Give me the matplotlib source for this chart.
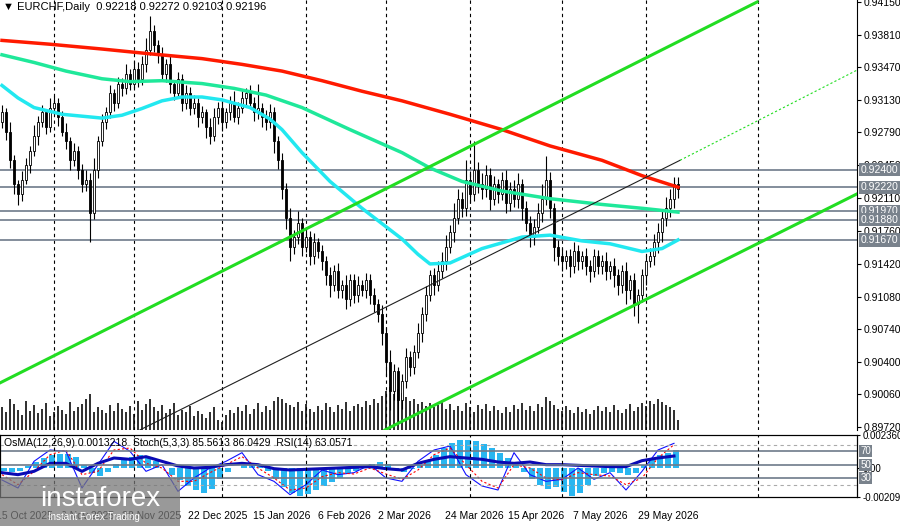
import matplotlib.pyplot as plt
import matplotlib.transforms as mtransforms
import numpy as np

plt.rcParams["font.family"] = ["Liberation Sans", "DejaVu Sans"]

# daily closes, EURCHF
closes = [
    0.9300, 0.9280, 0.9250, 0.9225, 0.9215, 0.9230, 0.9245, 0.9260, 0.9275, 0.9290,
    0.9300, 0.9285, 0.9305, 0.9310, 0.9295, 0.9280, 0.9270, 0.9250, 0.9260, 0.9240,
    0.9225, 0.9230, 0.9195, 0.9240, 0.9270, 0.9290, 0.9300, 0.9320, 0.9310, 0.9330,
    0.9325, 0.9340, 0.9330, 0.9345, 0.9335, 0.9350, 0.9365, 0.9385, 0.9370, 0.9360,
    0.9340, 0.9350, 0.9330, 0.9320, 0.9335, 0.9310, 0.9320, 0.9305, 0.9310, 0.9295,
    0.9300, 0.9285, 0.9275, 0.9295, 0.9305, 0.9290, 0.9300, 0.9310, 0.9295, 0.9305,
    0.9315, 0.9320, 0.9310, 0.9300, 0.9305, 0.9295, 0.9290, 0.9300, 0.9270, 0.9250,
    0.9220, 0.9190, 0.9160, 0.9170, 0.9185, 0.9160, 0.9170, 0.9150, 0.9165, 0.9155,
    0.9145, 0.9130, 0.9120, 0.9135, 0.9115, 0.9120, 0.9105, 0.9125, 0.9110, 0.9120,
    0.9115, 0.9125, 0.9110, 0.9100, 0.9090, 0.9070, 0.9040, 0.9010, 0.9030, 0.9000,
    0.9020, 0.9045, 0.9035, 0.9050, 0.9070, 0.9090, 0.9110, 0.9130, 0.9120, 0.9135,
    0.9145, 0.9160, 0.9175, 0.9190, 0.9210, 0.9200, 0.9230, 0.9215, 0.9240, 0.9225,
    0.9220, 0.9235, 0.9210, 0.9225, 0.9215, 0.9230, 0.9205, 0.9220, 0.9210, 0.9225,
    0.9200, 0.9185, 0.9170, 0.9180, 0.9195, 0.9210, 0.9230, 0.9200, 0.9160, 0.9150,
    0.9145, 0.9150, 0.9140, 0.9155, 0.9145, 0.9150, 0.9140, 0.9135, 0.9150, 0.9140,
    0.9145, 0.9135, 0.9140, 0.9130, 0.9120, 0.9135, 0.9115, 0.9125, 0.9100, 0.9110,
    0.9130, 0.9145, 0.9150, 0.9165, 0.9175, 0.9190, 0.9200, 0.9210, 0.9225, 0.92196,
]
first_open = 0.9290
# wick lengths in pips
upper_pips = [
    8, 5, 10, 6, 4, 9, 7, 5, 12, 6, 8, 4, 10, 7, 5, 6, 9, 4, 8, 5,
    6, 10, 7, 12, 5, 8, 6, 9, 4, 7, 6, 10, 5, 8, 7, 9, 12, 15, 6, 5,
    8, 6, 10, 4, 7, 5, 9, 6, 8, 5, 7, 4, 9, 10, 6, 8, 5, 7, 12, 6,
    9, 5, 8, 6, 25, 5, 7, 9, 6, 5, 8, 6, 10, 7, 12, 5, 8, 6, 9, 4,
    7, 5, 9, 6, 8, 5, 10, 7, 6, 9, 5, 8, 6, 7, 5, 9, 6, 12, 8, 5,
    7, 9, 6, 8, 10, 7, 9, 6, 8, 10, 9, 12, 8, 15, 10, 7, 20, 9, 30, 8,
    12, 10, 7, 9, 6, 8, 10, 7, 9, 12, 6, 8, 7, 9, 10, 15, 25, 8, 6, 7,
    9, 6, 8, 10, 7, 5, 9, 6, 8, 7, 6, 9, 5, 8, 7, 6, 9, 5, 8, 6,
    7, 6, 9, 8, 10, 9, 12, 10, 8, 8,
]
lower_pips = [
    6, 9, 8, 10, 12, 7, 5, 8, 6, 9, 5, 8, 6, 7, 9, 5, 8, 10, 6, 9,
    8, 7, 30, 6, 8, 5, 7, 6, 9, 5, 8, 6, 7, 5, 9, 6, 8, 5, 7, 9,
    6, 8, 10, 7, 5, 9, 6, 8, 7, 10, 6, 12, 8, 5, 7, 9, 6, 8, 5, 7,
    6, 8, 5, 9, 7, 10, 8, 6, 12, 9, 10, 12, 15, 8, 7, 10, 6, 9, 8, 7,
    9, 10, 12, 6, 8, 9, 10, 7, 9, 8, 6, 9, 10, 8, 9, 12, 15, 20, 10, 25,
    9, 7, 10, 8, 6, 9, 8, 7, 10, 6, 8, 9, 7, 10, 6, 9, 8, 10, 7, 9,
    10, 8, 12, 7, 9, 6, 10, 8, 9, 10, 12, 9, 10, 8, 6, 9, 7, 10, 15, 9,
    10, 8, 12, 7, 9, 8, 10, 12, 7, 9, 8, 10, 9, 12, 10, 8, 15, 10, 12, 20,
    8, 10, 6, 9, 12, 10, 8, 9, 10, 9,
]
volumes = [
    22, 18, 30, 25, 20, 15, 28, 19, 24, 17, 21, 26, 14, 18, 23, 20, 16, 27, 19, 22,
    25, 30, 35, 18, 22, 20, 17, 24, 19, 26, 21, 18, 23, 16, 28, 20, 25, 30, 22, 19,
    24, 17, 21, 26, 15, 20, 18, 23, 14, 19, 16, 12, 18, 22, 10, 8, 15, 20, 17, 22,
    19, 24, 16, 21, 26, 18, 23, 20, 28, 32, 30, 26, 24, 22, 27, 19, 25, 21, 18, 23,
    20, 26, 22, 18, 24, 21, 27, 19, 23, 25, 22, 28, 24, 30, 26, 33, 38, 42, 35, 40,
    36, 32, 28, 30, 25, 27, 23, 26, 22, 24, 28, 21, 25, 20, 23, 19, 26, 22, 18, 24,
    21, 25, 19, 23, 20, 17, 22, 18, 24, 21, 26, 20, 23, 19, 25, 22, 32, 28, 24, 21,
    19, 23, 20, 17, 22, 18, 21, 16, 20, 23, 19, 22, 18, 24, 20, 17, 21, 25, 19, 22,
    26, 23, 28, 25, 30, 27, 24, 22, 20, 10,
]

# moving averages, (bar index, price) points
ma_red_x = [0, 12, 25, 37, 50, 60, 70, 80, 90, 100, 112, 125, 137, 150, 160, 169]
ma_red_y = [0.9375, 0.9371, 0.9366, 0.9361, 0.9356, 0.9350, 0.9343, 0.9333, 0.9322, 0.9312,
            0.9298, 0.9282, 0.9265, 0.9250, 0.9234, 0.9222]
ma_green_x = [0, 8, 16, 25, 32, 40, 50, 58, 66, 75, 87, 100, 107, 115, 125, 137, 150, 160, 169]
ma_green_y = [0.9360, 0.9352, 0.9343, 0.9335, 0.9332, 0.9333, 0.9330, 0.9325, 0.9318, 0.9305,
              0.9282, 0.9258, 0.9242, 0.9228, 0.9218, 0.9210, 0.9204, 0.9200, 0.9196]
ma_cyan_x = [0, 4, 8, 15, 25, 30, 35, 40, 45, 50, 55, 62, 67, 70, 75, 82, 90, 100, 104, 107,
             112, 120, 130, 137, 145, 152, 160, 165, 169]
ma_cyan_y = [0.9328, 0.9315, 0.9305, 0.9298, 0.9294, 0.9297, 0.9304, 0.9312, 0.9316, 0.9316,
             0.9313, 0.9305, 0.9293, 0.9282, 0.9258, 0.9228, 0.9200, 0.9168, 0.9152, 0.9142,
             0.9143, 0.9158, 0.9170, 0.9172, 0.9166, 0.9163, 0.9155, 0.9158, 0.9167]

# channel lines (bar index, price)
chan_upper = ([-0.5, 188.75], [0.9018, 0.9415])
chan_lower = ([95.75, 213.75], [0.8969, 0.9215])
mid_solid = ([34.5, 169.5], [0.8969, 0.9250])
mid_dotted = ([169.5, 213.75], [0.9250, 0.9344])

levels = [0.92400, 0.92220, 0.91970, 0.91880, 0.91670]
price_ticks = [0.94150, 0.93810, 0.93470, 0.93130, 0.92790, 0.92450, 0.92110,
               0.91760, 0.91420, 0.91080, 0.90740, 0.90400, 0.90060, 0.89720]
grid_bars = [13, 33, 55, 76, 96, 117, 140, 161, 189]
date_labels = ["15 Oct 2025", "6 Nov 2025", "28 Nov 2025", "22 Dec 2025", "15 Jan 2026", "6 Feb 2026",
               "2 Mar 2026", "24 Mar 2026", "15 Apr 2026", "7 May 2026", "29 May 2026"]
date_label_bars = [5.5, 21.5, 37.5, 54, 70, 85.5, 100.5, 118, 133.5, 149.5, 166.5]

# lower panel: OsMA (every 2 bars, 1e-4 units), stoch / RSI (every 4 bars)
osma = [
    -2, -3, -2, 1, 4, 7, 9, 10, 10, 8, 2, -4, -6, -3, 3, 6, 8, 9, 8, 5,
    0, -5, -9, -13, -16, -18, -15, -8, -3, 0, 2, 3, 2, -2, -8, -14, -18, -20, -19, -16,
    -13, -10, -7, -4, -2, 1, 3, 4, 3, -1, -3, -1, 2, 5, 9, 14, 18, 20, 20, 19,
    17, 14, 11, 7, 3, -3, -8, -12, -15, -14, -17, -20, -18, -12, -6, -4, -3, -4, -5, -4,
    2, 6, 9, 11, 13,
]
stoch_k = [27, 15, 55, 72, 70, 15, 50, 85, 70, 40, 50, 10, 30, 45, 55, 68, 35, 25, 5, 20,
           42, 35, 38, 50, 30, 25, 55, 72, 78, 35, 18, 12, 68, 35, 25, 28, 45, 28, 38, 12,
           40, 72, 82]
stoch_d = [35, 20, 40, 65, 72, 35, 40, 72, 75, 52, 45, 25, 25, 38, 50, 62, 45, 30, 12, 15,
           32, 38, 36, 45, 36, 28, 42, 65, 75, 50, 25, 15, 50, 45, 30, 27, 38, 35, 33, 20,
           30, 60, 80]
rsi = [38, 35, 40, 52, 52, 40, 52, 60, 58, 62, 55, 48, 45, 46, 50, 52, 50, 44, 42, 43,
       44, 45, 46, 47, 44, 42, 52, 58, 62, 60, 58, 54, 52, 54, 50, 50, 49, 48, 47, 47,
       56, 60, 63]

GRAY_LABEL = "#79828c"
LEVEL_COLOR = "#6e7a8a"

fig = plt.figure(figsize=(9, 5.26), dpi=100)
ax = fig.add_axes([0.0, 1 - 430 / 526, 857 / 900, 430 / 526])
ax_vol = fig.add_axes(ax.get_position(), sharex=ax)
ax_vol.set_zorder(0)
ax.set_zorder(1)
ax.patch.set_alpha(0)

n = len(closes)
idx = np.arange(n)
opens = [first_open] + closes[:-1]
for i in range(n):
    o, c = opens[i], closes[i]
    hi = max(o, c) + upper_pips[i] * 1e-4
    lo = min(o, c) - lower_pips[i] * 1e-4
    ax.vlines(i, lo, hi, color="black", linewidth=0.8, zorder=3)
    body = max(abs(c - o), 0.00005)
    ax.bar(i, body, bottom=min(o, c), width=0.7, color="black" if c < o else "white",
           edgecolor="black", linewidth=0.6, zorder=4)

ax_vol.bar(idx, volumes, width=0.3, color="#333333")
ax_vol.set_ylim(0, 420)
ax_vol.axis("off")

for b in grid_bars:
    ax.axvline(b, color="black", linestyle=(0, (3, 3)), linewidth=0.8, zorder=1)
for lv in levels:
    ax.axhline(lv, color=LEVEL_COLOR, linewidth=1.2, zorder=2)

ax.plot(ma_red_x, ma_red_y, color="#ff1a00", linewidth=2.5, zorder=5)
ax.plot(ma_green_x, ma_green_y, color="#1fe89a", linewidth=2.5, zorder=5)
ax.plot(ma_cyan_x, ma_cyan_y, color="#22e8f0", linewidth=2.5, zorder=5)
ax.plot(*chan_upper, color="#22dd22", linewidth=2.2, zorder=6)
ax.plot(*chan_lower, color="#22dd22", linewidth=2.2, zorder=6)
ax.plot(*mid_solid, color="#202020", linewidth=0.8, zorder=6)
ax.plot(*mid_dotted, color="#22dd22", linewidth=0.8, linestyle=(0, (2, 2)), zorder=6)

ax.set_xlim(-0.5, 213.75)
ax.set_ylim(0.89689, 0.94171)
ax.yaxis.tick_right()
ax.set_yticks(price_ticks)
ax.set_yticklabels([f"{t:.5f}" for t in price_ticks], fontsize=7.5)
ax.tick_params(axis="y", length=3, pad=2)
ax.set_xticks([])
for s in ["top", "left", "bottom"]:
    ax.spines[s].set_visible(False)
ax.spines["right"].set_color("black")

trans = mtransforms.blended_transform_factory(ax.transAxes, ax.transData)
for lv in levels:
    ax.text(1.004, lv, f"{lv:.5f}", transform=trans, fontsize=7.5, color="white", va="center",
            ha="left", bbox=dict(boxstyle="square,pad=0.15", fc=GRAY_LABEL, ec="none"), zorder=10)
ax.text(0.003, 0.995, "\u25bc EURCHF,Daily  0.92218 0.92272 0.92103 0.92196", transform=ax.transAxes,
        fontsize=8, va="top", ha="left")

# lower indicator panel
ax2 = fig.add_axes([0.0, 29 / 526, 857 / 900, 62 / 526])
ax2o = ax2.twinx()
ax2.set_zorder(2)
ax2o.set_zorder(1)
ax2.patch.set_alpha(0)
osma_x = np.arange(len(osma)) * 2 + 0.5
ax2o.bar(osma_x, np.array(osma) * 1e-4, width=1.4, color="#29b6f0")
ax2o.set_ylim(-0.002095, 0.00236)
ax2o.set_yticks([0.00236, 0.0, -0.002095])
ax2o.set_yticklabels(["0.002360", "0.00", "-0.002095"], fontsize=7)
ax2o.tick_params(axis="y", length=2, pad=2)

line_x = np.arange(len(stoch_k)) * 4
ax2.plot(line_x, stoch_k, color="#1010ff", linewidth=0.8)
ax2.plot(line_x, stoch_d, color="red", linewidth=0.8, linestyle=(0, (2, 2)))
ax2.plot(line_x, rsi, color="#0a0ab4", linewidth=2.2)
for lv in [80, 20]:
    ax2.axhline(lv, color="#aaaaaa", linestyle=(0, (3, 3)), linewidth=0.8)
for lv in [70, 50, 30]:
    ax2.axhline(lv, color=LEVEL_COLOR, linewidth=1.2)
for b in grid_bars:
    ax2.axvline(b, color="black", linestyle=(0, (3, 3)), linewidth=0.8)
ax2.set_ylim(1.5, 94.5)
ax2.set_xlim(-0.5, 213.75)
ax2.set_yticks([])
ax2.set_xticks([])
for spine in ax2.spines.values():
    spine.set_color("black")
trans2 = mtransforms.blended_transform_factory(ax2.transAxes, ax2.transData)
for lv in [70, 50, 30]:
    ax2.text(1.004, lv, str(lv), transform=trans2, fontsize=7, color="white", va="center",
             bbox=dict(boxstyle="square,pad=0.1", fc=GRAY_LABEL, ec="none"), zorder=10)
ax2.text(0.005, 0.95, "OsMA(12,26,9) 0.0013218  Stoch(5,3,3) 85.5613 86.0429  RSI(14) 63.0571",
         transform=ax2.transAxes, fontsize=7.5, va="top")

for lbl, b in zip(date_labels, date_label_bars):
    fig.text((2 + 4 * b) / 900, 10 / 526, lbl, fontsize=7.5, ha="center", va="center")

# watermark
fig.patches.append(plt.Rectangle((0, 0), 180 / 900, 48 / 526, transform=fig.transFigure,
                                 fc="#777777", alpha=0.75, zorder=20))
fig.text(40 / 900, 27 / 526, "instaforex", fontsize=20, color="white", va="center", zorder=21)
fig.text(48 / 900, 9 / 526, "Instant Forex Trading", fontsize=7, color="white", va="center", zorder=21)

fig.savefig("out.png", dpi=100)
